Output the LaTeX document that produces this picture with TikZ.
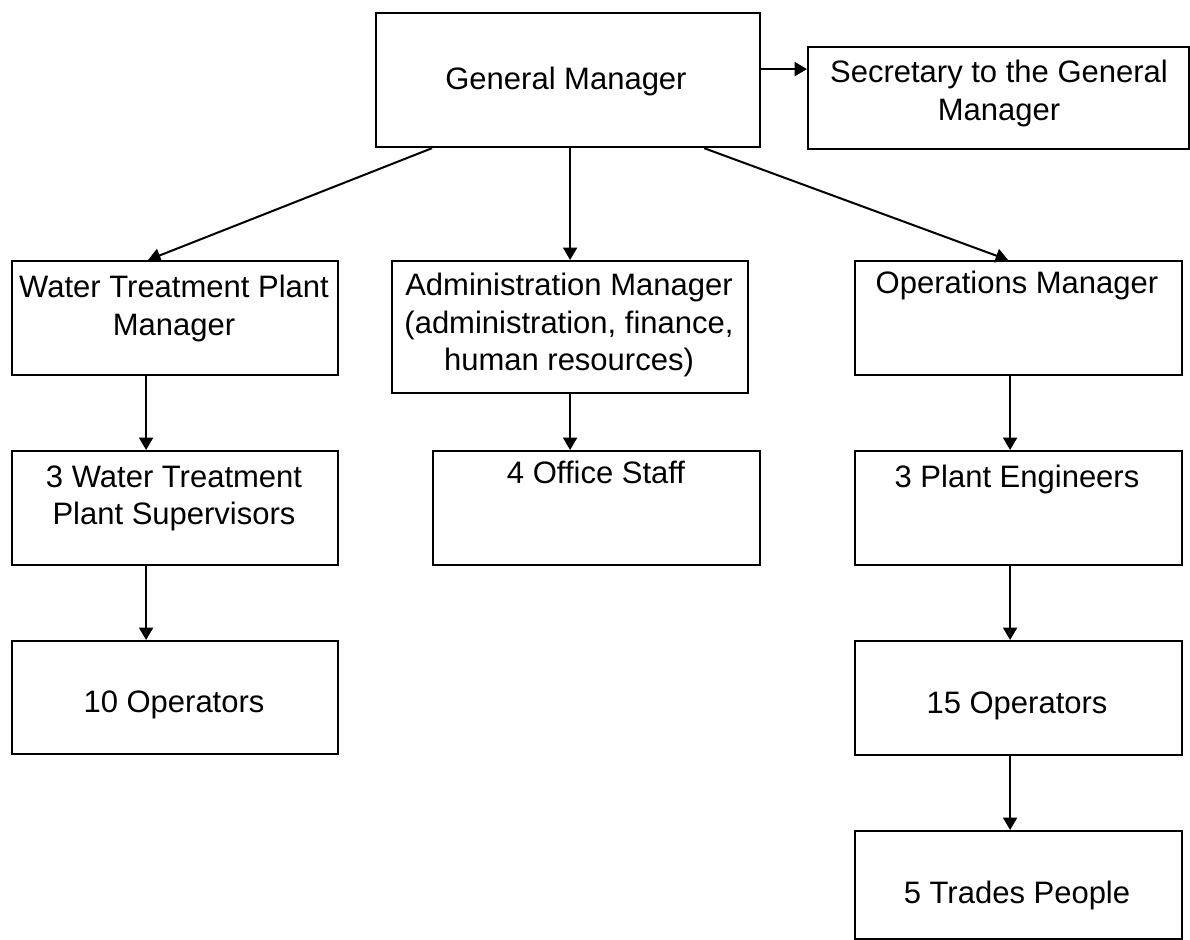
\documentclass[tikz,border=0pt]{standalone}
\usepackage{fontspec}
\setmainfont{Liberation Sans}
\usetikzlibrary{arrows.meta}
\begin{document}
\begin{tikzpicture}[x=0.5pt,y=-0.5pt,
  box/.style={draw=black, line width=1.1pt, rectangle, inner sep=0pt, anchor=north west, fill=white},
  txt/.style={anchor=north, inner sep=0pt, align=center, font=\fontsize{15.5}{18.7}\selectfont},
  arr/.style={draw=black, line width=1pt, -{Triangle[length=6.2pt,width=7pt]}}]
\useasboundingbox (0,0) rectangle (1190,940);
\fill[white] (0,0) rectangle (1190,940);
% boxes
\node[box, minimum width=192pt, minimum height=67pt] (gm) at (375,12) {};
\node[box, minimum width=190.5pt, minimum height=51pt] (sec) at (807,46) {};
\node[box, minimum width=163pt, minimum height=57pt] (wtpm) at (11,260) {};
\node[box, minimum width=178pt, minimum height=66pt] (adm) at (391,260) {};
\node[box, minimum width=163.5pt, minimum height=57pt] (ops) at (854,260) {};
\node[box, minimum width=163pt, minimum height=57pt] (wtps) at (11,450) {};
\node[box, minimum width=163.5pt, minimum height=57pt] (off) at (432,450) {};
\node[box, minimum width=163.5pt, minimum height=57pt] (eng) at (854,450) {};
\node[box, minimum width=163pt, minimum height=56.5pt] (opa) at (11,640) {};
\node[box, minimum width=163.5pt, minimum height=57pt] (opb) at (854,640) {};
\node[box, minimum width=163.5pt, minimum height=54pt] (trd) at (854,830) {};
% texts
\node[txt] (gmt) at (566,67) {General Manager};
\node[txt] (sect) at (999,60) {Secretary to the General\\Manager};
\node[txt] (wtpmt) at (174,275) {Water Treatment Plant\\Manager};
\node[txt] (admt) at (569,273) {Administration Manager\\(administration, finance,\\human resources)};
\node[txt] (opst) at (1017,271) {Operations Manager};
\node[txt] (wtpst) at (174,465) {3 Water Treatment\\Plant Supervisors};
\node[txt] (offt) at (596,461) {4 Office Staff};
\node[txt] (engt) at (1017,465) {3 Plant Engineers};
\node[txt] (opat) at (174,690) {10 Operators};
\node[txt] (opbt) at (1017,691) {15 Operators};
\node[txt] (trdt) at (1017,881) {5 Trades People};
% connectors
\draw[arr] ([yshift=5.5pt]gm.east) coordinate (g1) -- (g1 -| sec.west);
\draw[arr] ([xshift=28.5pt]gm.south west) -- ([xshift=-13.5pt]wtpm.north);
\draw[arr] (gm.south -| adm.north) -- (adm.north);
\draw[arr] ([xshift=-28.5pt]gm.south east) -- ([xshift=-5.25pt]ops.north);
\draw[arr] ([xshift=-14.5pt]wtpm.south) -- ([xshift=-14.5pt]wtps.north);
\draw[arr] ([xshift=-14.5pt]wtps.south) -- ([xshift=-14.5pt]opa.north);
\draw[arr] (adm.south) -- (adm.south |- off.north);
\draw[arr] ([xshift=-4.25pt]ops.south) -- ([xshift=-4.25pt]eng.north);
\draw[arr] ([xshift=-4.25pt]eng.south) -- ([xshift=-4.25pt]opb.north);
\draw[arr] ([xshift=-4.25pt]opb.south) -- ([xshift=-4.25pt]trd.north);
\end{tikzpicture}
\end{document}
